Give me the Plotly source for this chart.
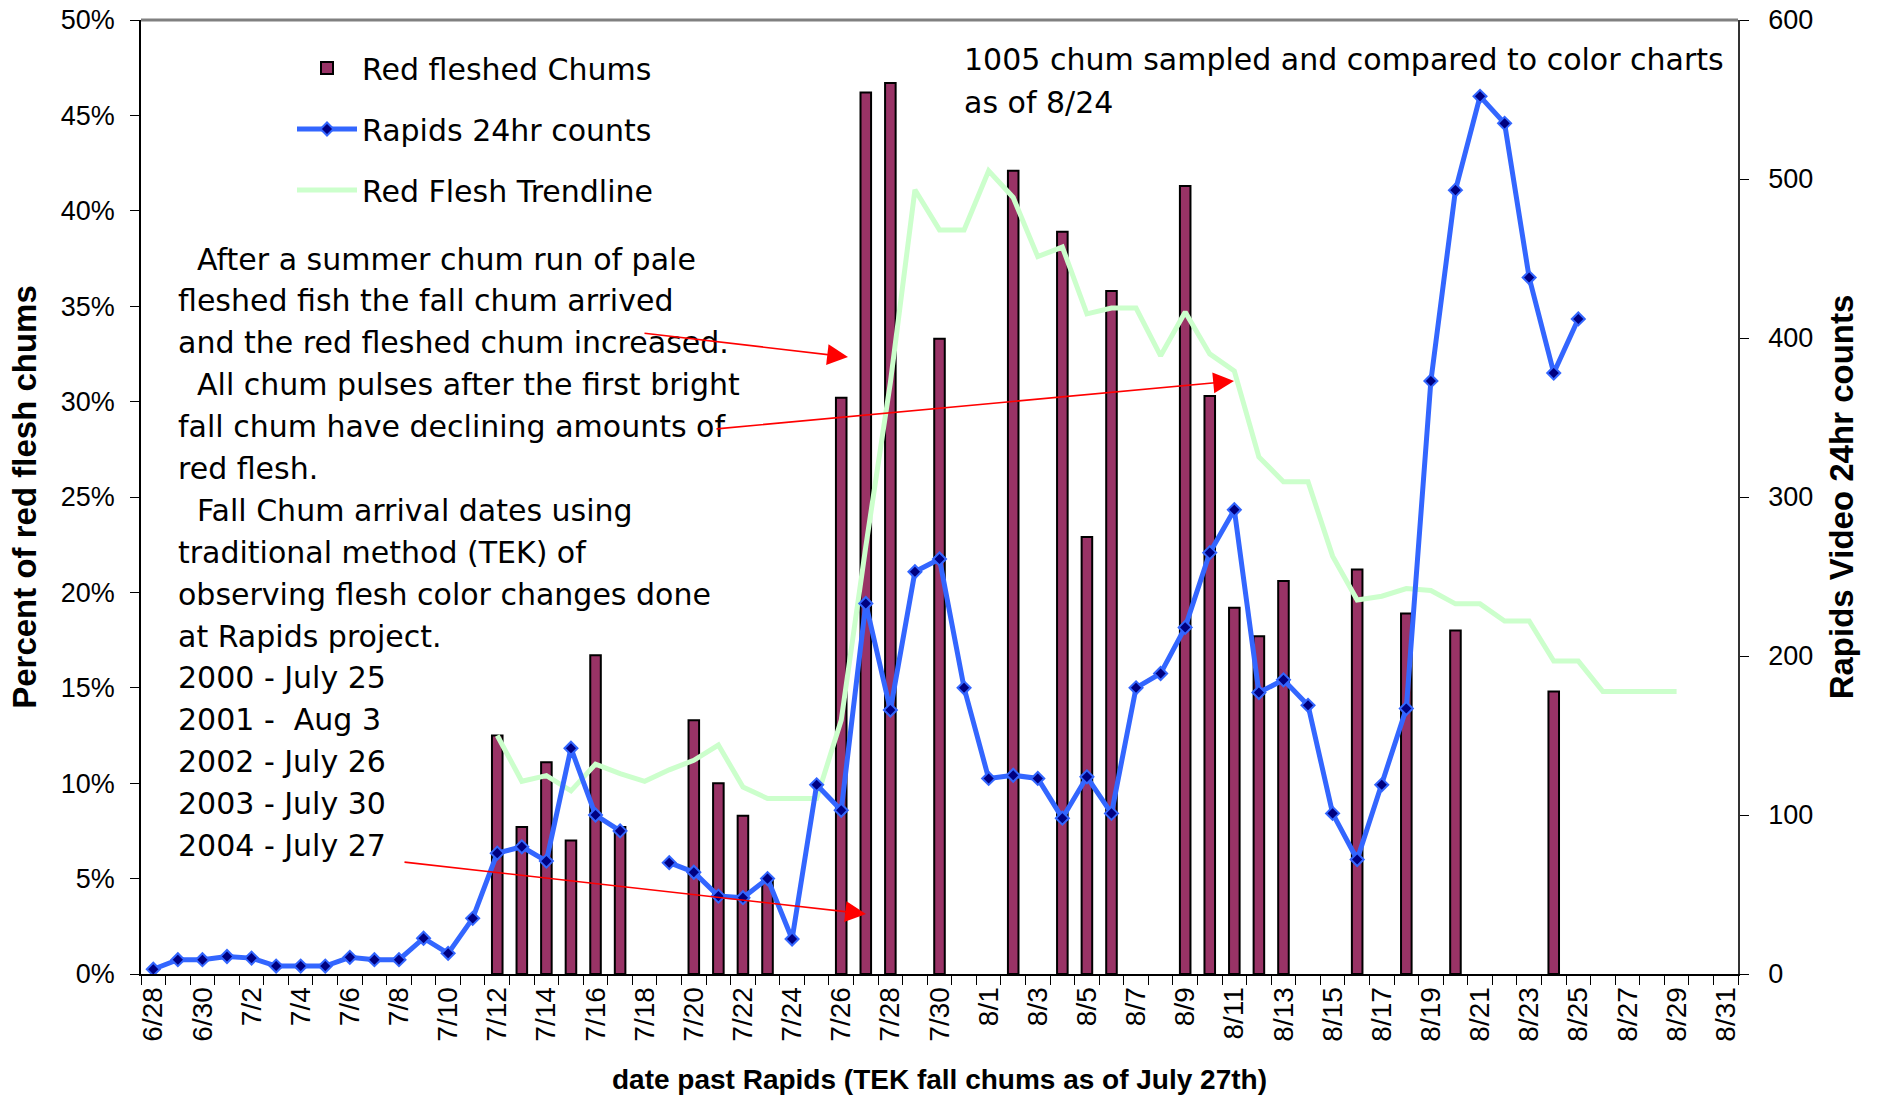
import plotly.graph_objects as go

dates = ["6/28", "6/29", "6/30",
         "7/1", "7/2", "7/3", "7/4", "7/5", "7/6", "7/7", "7/8", "7/9", "7/10",
         "7/11", "7/12", "7/13", "7/14", "7/15", "7/16", "7/17", "7/18", "7/19", "7/20",
         "7/21", "7/22", "7/23", "7/24", "7/25", "7/26", "7/27", "7/28", "7/29", "7/30", "7/31",
         "8/1", "8/2", "8/3", "8/4", "8/5", "8/6", "8/7", "8/8", "8/9", "8/10",
         "8/11", "8/12", "8/13", "8/14", "8/15", "8/16", "8/17", "8/18", "8/19", "8/20",
         "8/21", "8/22", "8/23", "8/24", "8/25", "8/26", "8/27", "8/28", "8/29", "8/30", "8/31"]

# Percent of red fleshed chums (fraction)
red_pct = [None, None, None,
           None, None, None, None, None, None, None, None, None, None,
           None, 0.125, 0.077, 0.111, 0.070, 0.167, 0.077, None, None, 0.133,
           0.100, 0.083, 0.050, None, None, 0.302, 0.462, 0.467, None, 0.333, None,
           None, 0.421, None, 0.389, 0.229, 0.358, None, None, 0.413, 0.303,
           0.192, 0.177, 0.206, None, None, 0.212, None, 0.189, None, 0.180,
           None, None, None, 0.148, None, None, None, None, None, None, None]

# Rapids 24hr counts
rapids = [3, 9, 9,
          11, 10, 5, 5, 5, 10.5, 9, 9, 22.5, 13,
          35, 76, 80, 71, 142, 100, 90, None, 70, 64,
          49, 48, 60, 22, 119, 103, 233, 166, 253, 261, 180,
          123, 125, 123, 98, 124, 101, 180, 189, 218, 265,
          292, 177, 185, 169, 101, 72, 119, 167, 373, 493,
          552, 535, 438, 378, 412, None, None, None, None, None, None]

# Red flesh trendline (fraction)
trend = [None, None, None,
         None, None, None, None, None, None, None, None, None, None,
         None, 0.125, 0.101, 0.104, 0.096, 0.110, 0.105, 0.101, 0.107, 0.112,
         0.120, 0.098, 0.092, 0.092, 0.092, 0.133, 0.224, 0.310, 0.411, 0.390, 0.390,
         0.421, 0.407, 0.376, 0.381, 0.346, 0.349, 0.349, 0.324, 0.347, 0.325,
         0.316, 0.271, 0.258, 0.258, 0.219, 0.196, 0.198, 0.202, 0.201, 0.194,
         0.194, 0.185, 0.185, 0.164, 0.164, 0.148, 0.148, 0.148, 0.148, None, None]

tick_text = [d if i % 2 == 0 else "" for i, d in enumerate(dates)]

left_text = ["\u00a0\u00a0After a summer chum run of pale",
             "fleshed fish the fall chum arrived",
             "and the red fleshed chum increased.",
             "\u00a0\u00a0All chum pulses after the first bright",
             "fall chum have declining amounts of",
             "red flesh.",
             "\u00a0\u00a0Fall Chum arrival dates using",
             "traditional method (TEK) of",
             "observing flesh color changes done",
             "at Rapids project.",
             "2000 - July 25",
             "2001 -\u00a0\u00a0Aug 3",
             "2002 - July 26",
             "2003 - July 30",
             "2004 - July 27"]

right_text = ["1005 chum sampled and compared to color charts", "as of 8/24"]

W, H = 1879, 1095
# plot area in the page: x 141..1738, y 20..974 (body margin removed below)
L, R, T, B = 141, 141, 20, 121
PW, PH = W - L - R, H - T - B


def px_x(x):
    return (x - L) / PW


def px_y(y):
    return (H - B - y) / PH


TXT_FONT = dict(family="DejaVu Sans", size=30, color="black")

fig = go.Figure()
fig.add_trace(go.Bar(
    x=dates, y=red_pct, name="Red fleshed Chums", width=0.43,
    marker=dict(color="#993366", line=dict(color="black", width=2)),
    legendgroup="a", yaxis="y", legendrank=1))
fig.add_trace(go.Scatter(
    x=dates, y=trend, name="Red Flesh Trendline", mode="lines",
    line=dict(color="#CCFFCC", width=5), legendgroup="c", yaxis="y",
    legendrank=3))
fig.add_trace(go.Scatter(
    x=dates, y=rapids, name="Rapids 24hr counts", mode="lines+markers",
    line=dict(color="#3366FF", width=5),
    marker=dict(symbol="diamond", size=10, color="#000080",
                line=dict(color="#3366FF", width=2)),
    connectgaps=False, legendgroup="b", yaxis="y2", legendrank=2))

annotations = []
for i, line in enumerate(left_text):
    annotations.append(dict(
        x=px_x(176), y=px_y(259 + i * 41.9), xref="paper", yref="paper",
        text=line, showarrow=False, xanchor="left", yanchor="middle",
        font=TXT_FONT))
for i, line in enumerate(right_text):
    annotations.append(dict(
        x=px_x(962), y=px_y(60 + i * 42), xref="paper", yref="paper",
        text=line, showarrow=False, xanchor="left", yanchor="middle",
        font=TXT_FONT))

arrows = [((643, 333), (848, 357)),
          ((715, 429), (1234, 381)),
          ((403, 862), (866, 914))]
for (tx, ty), (hx, hy) in arrows:
    annotations.append(dict(
        x=px_x(hx), y=px_y(hy), ax=px_x(tx), ay=px_y(ty),
        xref="x domain", yref="y domain", axref="x domain", ayref="y domain",
        text="", showarrow=True, arrowhead=2, arrowsize=2.6, arrowwidth=1.6,
        arrowcolor="#FF0000", standoff=0, startstandoff=0))

fig.update_layout(
    width=W, height=H,
    margin=dict(l=L, r=R, t=T, b=B, pad=0, autoexpand=False),
    paper_bgcolor="white", plot_bgcolor="white",
    font=dict(family="Liberation Sans, Arial, sans-serif", size=27, color="black"),
    barmode="overlay",
    showlegend=True,
    legend=dict(x=px_x(292), y=px_y(42), xanchor="left", yanchor="top",
                font=TXT_FONT, bgcolor="rgba(0,0,0,0)", itemwidth=60,
                traceorder="grouped", tracegroupgap=19),
    xaxis=dict(
        type="category", tickmode="array", tickvals=dates, ticktext=tick_text,
        tickangle=-90, tickson="boundaries", ticks="outside", ticklen=9,
        tickcolor="black", tickwidth=1, showline=True, linecolor="black",
        linewidth=2, showgrid=False, range=[-0.5, len(dates) - 0.5],
        tickfont=dict(size=28), automargin=False, ticklabeloverflow="allow",
        title=dict(text="<b>date past Rapids (TEK fall chums as of July 27th)</b>",
                   font=dict(size=28), standoff=30)),
    yaxis=dict(
        range=[0, 0.5], dtick=0.05, tickformat=".0%", ticks="outside",
        ticklen=9, tickcolor="black", showline=True, linecolor="black",
        linewidth=1.5, showgrid=False, zeroline=False, tickfont=dict(size=27),
        ticklabelstandoff=10, automargin=False, ticklabeloverflow="allow",
        title=dict(text="<b>Percent of red flesh chums</b>", font=dict(size=33),
                   standoff=14)),
    yaxis2=dict(
        range=[0, 600], dtick=100, overlaying="y", side="right",
        ticks="outside", ticklen=9, tickcolor="black", showline=True,
        linecolor="#333333", linewidth=1.5, showgrid=False, zeroline=False,
        tickfont=dict(size=27), ticklabelstandoff=14, automargin=False,
        ticklabeloverflow="allow",
        title=dict(text="<b>Rapids Video 24hr counts</b>", font=dict(size=33),
                   standoff=18)),
    shapes=[dict(type="line", xref="paper", yref="paper", x0=0, x1=1, y0=1, y1=1,
                 line=dict(color="#808080", width=3))],
    annotations=annotations,
)

fig.write_html("out.html",
               config={"displayModeBar": False},
               post_script="document.body.style.margin='0';document.body.style.padding='0';")
